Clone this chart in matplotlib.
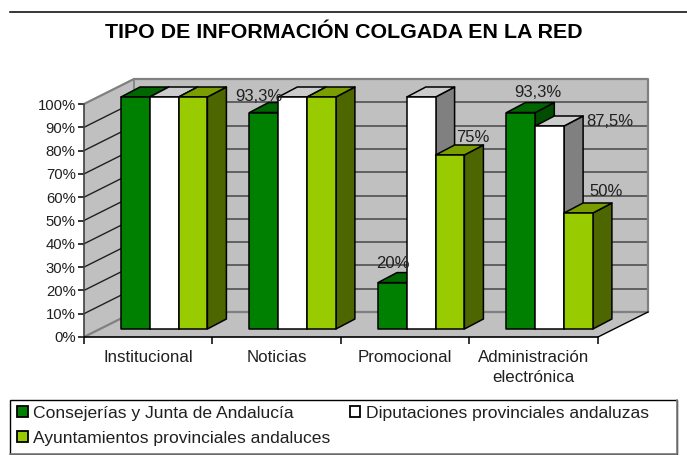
import matplotlib
matplotlib.use('Agg')
import matplotlib.pyplot as plt
from matplotlib.patches import Polygon, Patch, Rectangle

plt.rcParams['font.family'] = ['Liberation Sans', 'DejaVu Sans']

categorias = ['Institucional', 'Noticias', 'Promocional', 'Administración\nelectrónica']
series = ['Consejerías y Junta de Andalucía', 'Diputaciones provinciales andaluzas',
          'Ayuntamientos provinciales andaluces']
consejerias = [100, 93.3, 20, 93.3]
diputaciones = [100, 100, 100, 87.5]
ayuntamientos = [100, 100, 75, 50]
etiquetas_y = [0, 10, 20, 30, 40, 50, 60, 70, 80, 90, 100]

# (cara, arriba, lado)
colores = [('#008000', '#006600', '#004d00'),
           ('#ffffff', '#cccccc', '#808080'),
           ('#99cc00', '#7a9e00', '#4d6600')]

W, H = 687, 455
x0, y0 = 84, 337        # origen del eje en pixeles
px_cat = 128.5          # pixeles por categoria
px_pct = 2.33           # pixeles por 1%

fig = plt.figure(figsize=(W / 100, H / 100), dpi=100)
ax = fig.add_axes([0, 0, 1, 1])
ax.set_xlim(-x0 / px_cat, (W - x0) / px_cat)
ax.set_ylim(-(H - y0) / px_pct, y0 / px_pct)
ax.patch.set_visible(False)

# profundidad del suelo y de las barras, en unidades de datos
fondo_x, fondo_y = 50 / px_cat, 25 / px_pct
prof_x, prof_y = 19 / px_cat, 10 / px_pct
ancho = 28.8 / px_cat
margen = 37 / px_cat
base = 8 / px_pct
n = len(categorias)

# paredes y suelo
gris = '#c0c0c0'
ax.add_patch(Polygon([(0, 0), (fondo_x, fondo_y), (fondo_x, 100 + fondo_y), (0, 100)],
                     fc=gris, ec='none', zorder=1))
ax.add_patch(Polygon([(fondo_x, fondo_y), (n + fondo_x, fondo_y), (n + fondo_x, 100 + fondo_y),
                      (fondo_x, 100 + fondo_y)], fc=gris, ec='none', zorder=1))
ax.add_patch(Polygon([(0, 0), (n, 0), (n + fondo_x, fondo_y), (fondo_x, fondo_y)],
                     fc=gris, ec='none', zorder=1))

for v in etiquetas_y[1:-1]:
    ax.plot([0, fondo_x], [v, v + fondo_y], color='#202020', lw=1, zorder=2)
    ax.plot([fondo_x, n + fondo_x], [v + fondo_y, v + fondo_y], color='#505050', lw=1.2, zorder=2)
ax.plot([0, fondo_x, n + fondo_x, n + fondo_x, fondo_x, 0],
        [100, 100 + fondo_y, 100 + fondo_y, fondo_y, fondo_y, 0],
        color='#808080', lw=1.6, zorder=2)
ax.plot([fondo_x, fondo_x], [fondo_y, 100 + fondo_y], color='#808080', lw=1.2, zorder=2)
ax.plot([n, n + fondo_x], [0, fondo_y], color='black', lw=1, zorder=2)

# barras, de izquierda a derecha para que se tapen bien
z = 3
for i in range(n):
    for j, valores in enumerate([consejerias, diputaciones, ayuntamientos]):
        v = valores[i]
        xa = i + margen + j * ancho
        xb = xa + ancho
        ya = base
        yb = base + v * 2.32 / px_pct
        cara, arriba, lado = colores[j]
        ax.add_patch(Polygon([(xb, ya), (xb + prof_x, ya + prof_y), (xb + prof_x, yb + prof_y), (xb, yb)],
                             fc=lado, ec='black', lw=1.1, zorder=z, joinstyle='round'))
        ax.add_patch(Polygon([(xa, yb), (xb, yb), (xb + prof_x, yb + prof_y), (xa + prof_x, yb + prof_y)],
                             fc=arriba, ec='black', lw=1.1, zorder=z, joinstyle='round'))
        ax.add_patch(Polygon([(xa, ya), (xb, ya), (xb, yb), (xa, yb)],
                             fc=cara, ec='black', lw=1.1, zorder=z, joinstyle='round'))
        z += 1

# etiquetas de datos: (categoria, serie, texto, desplazamiento en pixeles)
etiquetas = [(1, 0, '93,3%', (-5, 16)), (2, 0, '20%', (0, 19)), (2, 2, '75%', (23, 18)),
             (3, 0, '93,3%', (17, 20)), (3, 1, '87,5%', (60, 5)), (3, 2, '50%', (28, 22))]
for i, j, texto, (dx, dy) in etiquetas:
    v = [consejerias, diputaciones, ayuntamientos][j][i]
    xc = i + margen + (j + 0.5) * ancho
    yc = base + v * 2.32 / px_pct
    ax.annotate(texto, (xc, yc), xytext=(dx * 0.72, dy * 0.72), textcoords='offset points',
                ha='center', va='center', fontsize=12, color='#202020', zorder=50)

# ejes
for s in ['top', 'right']:
    ax.spines[s].set_visible(False)
ax.spines['left'].set_position(('data', 0))
ax.spines['bottom'].set_position(('data', 0))
ax.spines['left'].set_bounds(0, 100)
ax.spines['bottom'].set_bounds(0, n)
ax.spines['left'].set_color('#404040')
ax.spines['bottom'].set_linewidth(1.2)
ax.spines['left'].set_linewidth(1.2)
ax.spines['left'].set_zorder(2.5)
ax.spines['bottom'].set_zorder(2.5)

ax.set_yticks(etiquetas_y)
ax.set_yticklabels(['%d%%' % v for v in etiquetas_y], fontsize=10.7, color='#202020')
ax.tick_params(axis='y', length=4, width=1.1, pad=2, direction='out')
ax.set_xticks([i + 0.5 for i in range(n)])
ax.set_xticklabels(categorias, fontsize=12.2, color='#202020', linespacing=1.48)
ax.set_xticks(range(n + 1), minor=True)
ax.tick_params(axis='x', which='major', length=0, pad=9)
ax.tick_params(axis='x', which='minor', length=5, width=1.1, direction='out')

fig.text(344 / W, 1 - 33 / H, 'TIPO DE INFORMACIÓN COLGADA EN LA RED', ha='center', va='center',
         fontsize=15.4, fontweight='bold', color='black')
# linea superior del marco
ax.plot([(10 - x0) / px_cat, (W - x0) / px_cat], [(y0 - 12) / px_pct] * 2, color='black', lw=1.1, zorder=1)

# marco de la leyenda
fig.add_artist(Rectangle((10 / W, 1 - 454 / H), 667 / W, 54 / H, transform=fig.transFigure,
                         fc='white', ec='black', lw=1))
fig.add_artist(plt.Line2D([10 / W, 677 / W, 677 / W], [1 - 454 / H, 1 - 454 / H, 1 - 400 / H],
                          color='#808080', lw=1.2))

orden = [0, 2, 1]   # la leyenda llena por columnas
handles = [Patch(fc=colores[j][0], ec='black', lw=1.3) for j in orden]
leg = fig.legend(handles, [series[j] for j in orden], ncol=2, loc='upper left',
                 bbox_to_anchor=(17 / W, 1 - 406 / H), fontsize=12.6,
                 frameon=False, handlelength=0.6, handleheight=0.6,
                 handletextpad=0.32, borderaxespad=0, labelspacing=0.55, borderpad=0,
                 columnspacing=1.1, labelcolor='#202020')

fig.savefig('out.png', dpi=100)
